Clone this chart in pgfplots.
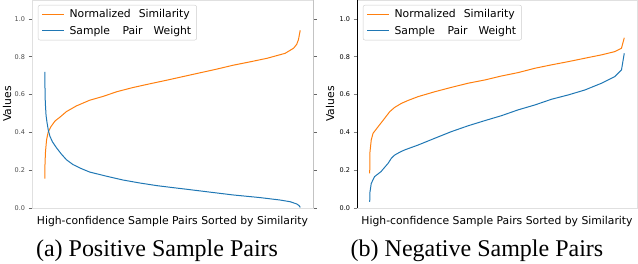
\documentclass[border=0pt]{standalone}
\usepackage{fontspec}
\setmainfont{DejaVu Sans}
\newfontfamily\capfont{Liberation Serif}
\usepackage{pgfplots}
\pgfplotsset{compat=1.18}
\usepackage{pgfplotstable}
\definecolor{tabblue}{HTML}{1F77B4}
\definecolor{taborange}{HTML}{FF7F0E}

\pgfplotstableread{
t v
0 0.155
0.001 0.24
0.003 0.30
0.007 0.36
0.013 0.40
0.024 0.43
0.040 0.46
0.059 0.48
0.085 0.51
0.124 0.54
0.176 0.57
0.228 0.59
0.282 0.615
0.345 0.637
0.412 0.657
0.478 0.676
0.541 0.695
0.608 0.715
0.675 0.735
0.737 0.755
0.804 0.773
0.871 0.792
0.941 0.818
0.974 0.845
0.986 0.865
0.993 0.89
1.0 0.94
}\posSim

\pgfplotstableread{
t v
0 0.72
0.0005 0.66
0.002 0.56
0.005 0.49
0.009 0.45
0.014 0.41
0.020 0.38
0.030 0.35
0.045 0.32
0.065 0.285
0.085 0.255
0.110 0.23
0.140 0.21
0.176 0.19
0.242 0.168
0.306 0.148
0.373 0.132
0.440 0.118
0.500 0.108
0.556 0.099
0.634 0.086
0.737 0.069
0.843 0.055
0.922 0.042
0.961 0.033
0.987 0.021
0.996 0.012
1.0 0.003
}\posW

\pgfplotstableread{
t v
0 0.183
0.0005 0.29
0.006 0.36
0.013 0.395
0.033 0.43
0.059 0.475
0.079 0.51
0.098 0.532
0.124 0.553
0.151 0.569
0.190 0.589
0.256 0.615
0.321 0.638
0.387 0.66
0.452 0.677
0.517 0.698
0.583 0.716
0.649 0.739
0.714 0.757
0.780 0.774
0.845 0.792
0.911 0.81
0.963 0.827
0.989 0.845
1.0 0.90
}\negSim

\pgfplotstableread{
t v
0 0.033
0.0005 0.08
0.006 0.13
0.019 0.166
0.044 0.192
0.072 0.236
0.085 0.263
0.098 0.28
0.118 0.295
0.137 0.307
0.190 0.333
0.256 0.369
0.321 0.404
0.387 0.435
0.452 0.462
0.517 0.488
0.583 0.519
0.649 0.545
0.714 0.575
0.780 0.598
0.845 0.624
0.911 0.66
0.963 0.695
0.989 0.73
1.0 0.818
}\negW

\begin{document}
\begin{tikzpicture}[x=1pt,y=1pt]
\useasboundingbox (0,0) rectangle (638,264);
\pgfplotsset{panel/.style={
  anchor=south west, height=208pt, scale only axis,
  xmin=-0.05, xmax=1.05, ymin=0, ymax=1.1,
  xtick=\empty,
  ytick={0,0.2,0.4,0.6,0.8,1.0},
  yticklabel style={/pgf/number format/fixed,/pgf/number format/fixed zerofill,/pgf/number format/precision=1,font=\fontsize{6.5}{7}\selectfont},
  /pgf/number format/assume math mode=true,
  tick align=outside, major tick length=3.5pt,
  ytick style={line width=0.6pt},
  axis line style={draw=black!12, line width=0.8pt},
  xlabel={High-confidence Sample Pairs Sorted by Similarity},
  xlabel style={at={(axis description cs:0.5,-0.077)}, anchor=base, font=\fontsize{10.8}{12}\selectfont},
  ylabel={Values},
  ylabel style={anchor=center, font=\fontsize{10.8}{12}\selectfont},
  legend style={at={(0.021,0.976)}, anchor=north west, draw=black!20, rounded corners=2pt,
    font=\fontsize{10.8}{12}\selectfont, inner xsep=3.5pt, inner ysep=2.5pt, row sep=2.5pt, column sep=3pt},
  legend cell align=left,
  legend image code/.code={\draw[#1] (0pt,0pt) -- (22pt,0pt);},
  every axis plot/.append style={line width=1pt},
}}
\begin{axis}[panel, at={(32pt,56pt)}, width=281pt,
  ylabel style={at={(axis description cs:-0.089,0.5)}},
  yticklabel style={black!70}, ytick style={black!60}]
\addplot[taborange] table[x=t,y=v] {\posSim};
\addlegendentry{Normalized\hspace{4.5pt} Similarity}
\addplot[tabblue] table[x=t,y=v] {\posW};
\addlegendentry{Sample\hspace{9pt} Pair\hspace{7.5pt} Weight}
\draw[black, line width=0.9pt] (rel axis cs:1,0) -- (rel axis cs:1,1);
\end{axis}
\begin{axis}[panel, at={(357pt,56pt)}, width=280pt,
  ylabel style={at={(axis description cs:-0.096,0.5)}}]
\addplot[taborange] table[x=t,y=v] {\negSim};
\addlegendentry{Normalized\hspace{4.5pt} Similarity}
\addplot[tabblue] table[x=t,y=v] {\negW};
\addlegendentry{Sample\hspace{9pt} Pair\hspace{7.5pt} Weight}
\draw[black, line width=0.9pt] (rel axis cs:0,0) -- (rel axis cs:0,1);
\end{axis}
\node[anchor=base, font=\capfont\fontsize{24}{28}\selectfont] at (157,7) {(a) Positive Sample Pairs};
\node[anchor=base, font=\capfont\fontsize{24}{28}\selectfont] at (477,7) {(b) Negative Sample Pairs};
\end{tikzpicture}
\end{document}
